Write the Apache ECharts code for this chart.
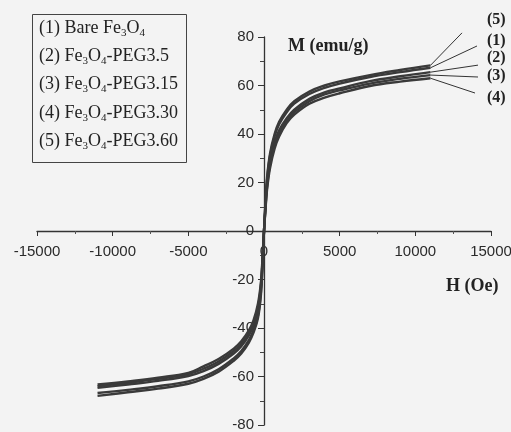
<!DOCTYPE html>
<html>
<head>
<meta charset="utf-8">
<script src="https://cdn.jsdelivr.net/npm/echarts@6/dist/echarts.min.js"></script>
<style>
    html, body { margin: 0; padding: 0; background: #f3f3f3; }
    #chart { width: 511px; height: 432px; }
</style>
</head>
<body>
<div id="chart"></div>
<script>
// field H (Oe)
var fieldH = [-11000, -9000, -7000, -5000, -4000, -3000, -2000, -1500, -1000, -700, -400, -200, -100,
    0, 100, 200, 400, 700, 1000, 1500, 2000, 3000, 4000, 5000, 7000, 9000, 11000];

// M (emu/g) for each sample
var curve1 = [-66.8, -65.5, -64, -62, -60, -57, -52.5, -49.5, -45, -41, -35, -25, -14,
    0, 11.5, 21, 31, 39, 44, 49, 52.5, 56.5, 59, 60.8, 63.5, 65.5, 67.3];
var curve2 = [-64.7, -63.3, -61.8, -59.8, -57.8, -54.8, -50.5, -47.5, -43, -39, -32.5, -23, -12.5,
    0, 10, 19, 28.5, 36.5, 41.5, 46.5, 50, 54.5, 57.2, 58.8, 61.8, 63.8, 65.5];
var curve3 = [-64, -62.6, -61, -59, -56.8, -53.8, -49.5, -46.5, -42, -38, -31.5, -22, -12,
    0, 9.5, 18, 27.5, 35.5, 40.5, 45.5, 49, 53.5, 56.3, 58, 60.8, 62.8, 64.3];
var curve4 = [-63.3, -62, -60.5, -58.5, -55.8, -52.8, -48.5, -45.5, -41, -37, -30, -21, -11,
    0, 9, 17, 26, 34, 39, 44.5, 48, 52.5, 55, 56.8, 59.8, 61.6, 63];
var curve5 = [-68, -66.5, -65, -63, -61, -58, -53.5, -50.5, -46, -42, -36, -26, -15,
    0, 12, 22, 32, 40, 45, 50, 53.5, 57.5, 60, 61.7, 64.3, 66.4, 68.3];

var curveTags = ['(1)', '(2)', '(3)', '(4)', '(5)'];
var legendNames = [
    '(1) Bare Fe{s|3}O{s|4}',
    '(2) Fe{s|3}O{s|4}-PEG3.5',
    '(3) Fe{s|3}O{s|4}-PEG3.15',
    '(4) Fe{s|3}O{s|4}-PEG3.30',
    '(5) Fe{s|3}O{s|4}-PEG3.60'
];

var chartDom = document.getElementById('chart');
var myChart = echarts.init(chartDom);

var toPairs = function (ys) {
    return fieldH.map(function (h, i) { return [h, ys[i]]; });
};

var curves = [curve1, curve2, curve3, curve4, curve5];
var lineColor = '#3a3a3a';
var textColor = '#222';
var serif = '"Liberation Serif", "DejaVu Serif", serif';
var sans = '"Liberation Sans", Arial, sans-serif';

var series = curves.map(function (c, i) {
    return {
        name: curveTags[i],
        type: 'line',
        data: toPairs(c),
        showSymbol: false,
        smooth: 0.4,
        z: 3,
        lineStyle: { color: lineColor, width: 2.4 }
    };
});

// leader lines from the end of each curve out to its tag (H, M of the far end)
var leaderEnd = [[14075, 76.3], [14141, 68.4], [14141, 63.5], [13943, 56.9], [13084, 81.7]];
curves.forEach(function (c, i) {
    series.push({
        type: 'line',
        data: [[fieldH[fieldH.length - 1], c[c.length - 1]], leaderEnd[i]],
        showSymbol: false,
        clip: false,
        silent: true,
        z: 2,
        lineStyle: { color: '#333', width: 1 }
    });
});

var graphics = [
    {
        type: 'rect',
        shape: { x: 32.5, y: 14.5, width: 154, height: 148 },
        style: { fill: null, stroke: '#444', lineWidth: 1 }
    },
    { type: 'text', left: 288, top: 37, style: { text: 'M (emu/g)', font: 'bold 18px ' + serif, fill: textColor } },
    { type: 'text', left: 446, top: 277, style: { text: 'H (Oe)', font: 'bold 18px ' + serif, fill: textColor } }
];

legendNames.forEach(function (name, i) {
    graphics.push({
        type: 'text',
        left: 39,
        top: 19 + i * 28.3,
        style: {
            text: name,
            font: '18px ' + serif,
            fill: textColor,
            rich: {
                s: { fontSize: 11, fontFamily: serif, fill: textColor, padding: [10, 0, 0, 0] }
            }
        }
    });
});

// tags on the right, stacked top to bottom: (5) (1) (2) (3) (4)
var tagOrder = [4, 0, 1, 2, 3];
var tagTop = [12, 33, 50, 68, 90];
tagOrder.forEach(function (k, i) {
    graphics.push({
        type: 'text',
        left: 487,
        top: tagTop[i],
        style: { text: curveTags[k], font: 'bold 16px ' + serif, fill: textColor }
    });
});

var plainNumber = function (v) { return String(v); };

// grid spans 37..491 x 37..425, so the zero lines sit at x=264, y=231
var option = {
    backgroundColor: '#f3f3f3',
    animation: false,
    grid: { left: 37, right: 20, top: 37, bottom: 7, containLabel: false, outerBoundsMode: 'none' },
    xAxis: {
        type: 'value',
        min: -15000,
        max: 15000,
        interval: 5000,
        position: 'bottom',
        offset: -194,
        axisLine: { onZero: false, lineStyle: { color: '#333', width: 1.3 } },
        axisTick: { show: true, length: 5, lineStyle: { color: '#333' } },
        minorTick: { show: true, splitNumber: 2, length: 3, lineStyle: { color: '#555' } },
        splitLine: { show: false },
        axisLabel: { color: '#2a2a2a', fontSize: 15, fontFamily: sans, margin: 13, formatter: plainNumber }
    },
    yAxis: {
        type: 'value',
        min: -80,
        max: 80,
        interval: 20,
        position: 'left',
        offset: -227,
        axisLine: { show: true, onZero: false, lineStyle: { color: '#333', width: 1.3 } },
        axisTick: { show: true, length: 6, lineStyle: { color: '#333' } },
        minorTick: { show: true, splitNumber: 2, length: 4, lineStyle: { color: '#444' } },
        splitLine: { show: false },
        axisLabel: { color: '#2a2a2a', fontSize: 15, fontFamily: sans, margin: 10, formatter: plainNumber }
    },
    graphic: graphics,
    series: series
};

option && myChart.setOption(option);
</script>
</body>
</html>
